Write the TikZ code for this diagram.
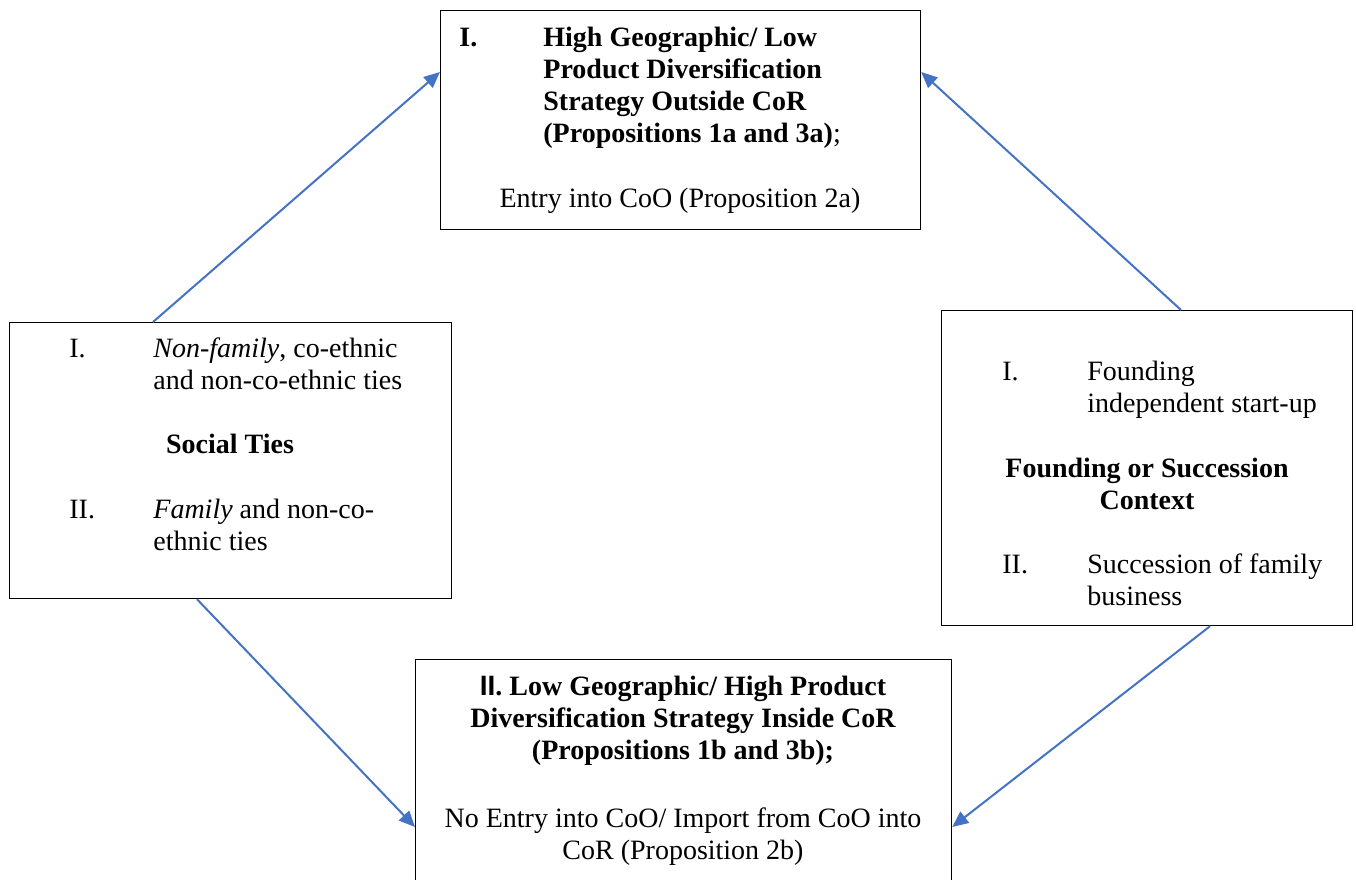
\documentclass[tikz,border=0pt]{standalone}
\usepackage{fontspec}
\setmainfont{Liberation Serif}
\setsansfont{Liberation Sans}
\usepackage{tikz}
\usetikzlibrary{arrows.meta}
\definecolor{linkblue}{HTML}{4472C4}
\tikzset{
	boxnode/.style={rectangle, draw=black, line width=0.6pt, anchor=north west, inner sep=0pt},
	txtnode/.style={anchor=base west, inner sep=0pt, align=left},
	midnode/.style={anchor=base, inner sep=0pt, align=center},
	linkarrow/.style={-{Triangle[length=8pt,width=7pt]}, draw=linkblue, fill=linkblue, line width=1pt}
}
\begin{document}
\fontsize{14}{16}\selectfont
\begin{tikzpicture}[x=0.5pt,y=-0.5pt]
		\useasboundingbox (0,0) rectangle (1356,879);
		%boxes
		\node[boxnode, minimum width=240pt, minimum height=109.5pt] at (440,10) (high) {};
		\node[boxnode, minimum width=221pt, minimum height=138pt] at (9,322) (ties) {};
		\node[boxnode, minimum width=205.5pt, minimum height=157.5pt] at (941,310) (found) {};
		\node[boxnode, minimum width=268pt, minimum height=120pt] at (415,659) (low) {};
		
		%top box (base = last line)
		\node[txtnode, font=\bfseries] at (459,46) (highnum) {I.};
		\node[txtnode, font=\bfseries] at (543,142) (hightitle) {High Geographic/ Low\\Product Diversification\\Strategy Outside CoR\\(Propositions 1a and 3a){\mdseries;}};
		\node[midnode] at (680,207) (highnote) {Entry into CoO (Proposition 2a)};
		
		%left box
		\node[txtnode] at (69,357) (tiesnumA) {I.};
		\node[txtnode] at (153,389) (tiesA) {\textit{Non-family}, co-ethnic\\and non-co-ethnic ties};
		\node[midnode, font=\bfseries] at (230,453) (tiestitle) {Social Ties};
		\node[txtnode] at (69,518) (tiesnumB) {II.};
		\node[txtnode] at (153,550) (tiesB) {\textit{Family} and non-co-\\ethnic ties};
		
		%right box
		\node[txtnode] at (1002,380) (foundnumA) {I.};
		\node[txtnode] at (1087,412) (foundA) {Founding\\independent start-up};
		\node[midnode, font=\bfseries] at (1147,509) (foundtitle) {Founding or Succession\\Context};
		\node[txtnode] at (1002,573) (foundnumB) {II.};
		\node[txtnode] at (1087,605) (foundB) {Succession of family\\business};
		
		%bottom box
		\node[midnode, font=\bfseries] at (683,759) (lowtitle) {{\sffamily II}. Low Geographic/ High Product\\Diversification Strategy Inside CoR\\(Propositions 1b and 3b);};
		\node[midnode] at (683,859) (lownote) {No Entry into CoO/ Import from CoO into\\CoR (Proposition 2b)};
		
		%Lines
		\draw[linkarrow] ([xshift=72pt]ties.north west) -- ([yshift=-31pt]high.north west);
		\draw[linkarrow] ([xshift=120pt]found.north west) -- ([yshift=-31pt]high.north east);
		\draw[linkarrow] ([xshift=94pt]ties.south west) -- ([yshift=-84pt]low.north west);
		\draw[linkarrow] ([xshift=134.5pt]found.south west) -- ([yshift=-84pt]low.north east);
	\end{tikzpicture}
\end{document}
